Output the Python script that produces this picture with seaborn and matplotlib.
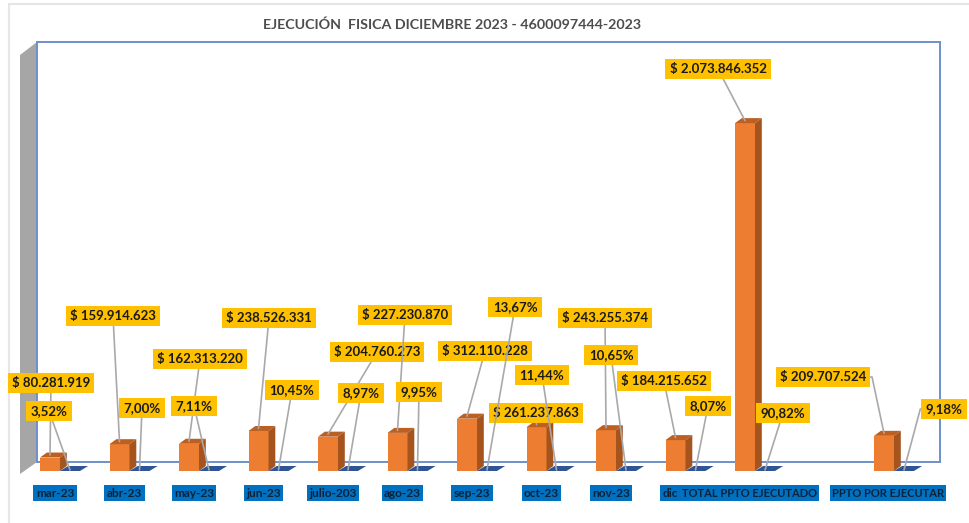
import numpy as np
import pandas as pd
import matplotlib.pyplot as plt
import seaborn as sns
from matplotlib.patches import Polygon

W, H = 969, 523

categories = ["mar-23", "abr-23", "may-23", "jun-23", "julio-203", "ago-23", "sep-23",
              "oct-23", "nov-23", "dic", "TOTAL PPTO EJECUTADO", " ", "PPTO POR EJECUTAR"]
bar_categories = ["mar-23", "abr-23", "may-23", "jun-23", "julio-203", "ago-23", "sep-23",
                  "oct-23", "nov-23", "dic", "TOTAL PPTO EJECUTADO", "PPTO POR EJECUTAR"]
valores = [80281919, 159914623, 162313220, 238526331, 204760273, 227230870, 312110228,
           261237863, 243255374, 184215652, 2073846352, 209707524]
porcentajes = [0.0352, 0.0700, 0.0711, 0.1045, 0.0897, 0.0995, 0.1367,
               0.1144, 0.1065, 0.0807, 0.9082, 0.0918]
valor_labels = ["$ 80.281.919", "$ 159.914.623", "$ 162.313.220", "$ 238.526.331",
                "$ 204.760.273", "$ 227.230.870", "$ 312.110.228", "$ 261.237.863",
                "$ 243.255.374", "$ 184.215.652", "$ 2.073.846.352", "$ 209.707.524"]
pct_labels = ["3,52%", "7,00%", "7,11%", "10,45%", "8,97%", "9,95%", "13,67%",
              "11,44%", "10,65%", "8,07%", "90,82%", "9,18%"]

# label box centres in image pixels
valor_pos = [(51, 383), (113, 316), (200, 359), (269, 318), (377, 352), (405, 315),
             (485, 351), (536, 413), (605, 318), (664, 381), (718, 69), (823, 377)]
pct_pos = [(49, 411), (142, 408), (194, 406), (292, 390), (361, 393), (419, 392),
           (515, 307), (542, 375), (611, 355), (708, 406), (783, 413), (944, 409)]
# pixel shift of the axis labels
tick_shift = np.array([-5, -5, -5, -5, -5, -5, -5, -5, -5, -15, -6, 0, -6])

sns.set_theme(style="white")
plt.rcParams["font.family"] = ["Lato", "DejaVu Sans"]

df = pd.concat([
    pd.DataFrame({"cat": bar_categories, "serie": "Valor", "valor": valores}),
    pd.DataFrame({"cat": bar_categories, "serie": "Porcentaje", "valor": porcentajes}),
])


def fx(x):
    return x / W


def fy(y):
    return 1 - y / H


def fig_xy(points):
    return [(fx(x), fy(y)) for x, y in points]


fig = plt.figure(figsize=(W / 100, H / 100), dpi=100, facecolor="white")
ax = fig.add_axes([fx(20), fy(471), fx(940) - fx(20), fy(55) - fy(471)])
ax.patch.set_visible(False)

sns.barplot(data=df, x="cat", y="valor", hue="serie", order=categories,
            hue_order=["Valor", "Porcentaje"], palette=["#ED7D31", "#2F5597"],
            saturation=1, linewidth=0, width=0.575, gap=0, legend=False, errorbar=None, ax=ax)

ax.set_xlim((20 - 60) / 69.5, (940 - 60) / 69.5)
ax.set_ylim(0, 2.48e9)
ax.set_xlabel("")
ax.set_ylabel("")
ax.set_yticks([])
sns.despine(ax=ax, left=True, bottom=True)

# image frame, side wall and back wall of the 3D box
ax.plot([fx(9), fx(9), fx(969)], [fy(523), fy(4), fy(4)], color="#E6E6E6", lw=1.5,
        transform=fig.transFigure, clip_on=False, zorder=0)
ax.add_patch(Polygon(fig_xy([(20, 55), (37, 42), (37, 462), (20, 474)]), fc="#A6A6A6", ec="none",
                     transform=fig.transFigure, clip_on=False, zorder=0.4))
ax.add_patch(Polygon(fig_xy([(37, 42), (940, 42), (940, 462), (37, 462)]), fc="none", ec="#6F8FCB",
                     lw=1.4, transform=fig.transFigure, clip_on=False, zorder=0.5))

dx = 6.8 / 69.5
dy = 5 * 2.48e9 / 416
bars_valor = list(ax.containers[0])
bars_pct = list(ax.containers[1])
for b in bars_valor:
    x0, x1, h = b.get_x(), b.get_x() + b.get_width(), b.get_height()
    ax.add_patch(Polygon([(x0, h), (x1, h), (x1 + dx, h + dy), (x0 + dx, h + dy)],
                         fc="#BC5F22", ec="none", clip_on=False, zorder=1.2))
    ax.add_patch(Polygon([(x1, 0), (x1 + dx, dy), (x1 + dx, h + dy), (x1, h)],
                         fc="#A5541E", ec="none", clip_on=False, zorder=1.2))
for b in bars_pct:
    x0, x1 = b.get_x(), b.get_x() + b.get_width()
    ax.add_patch(Polygon([(x0, 0), (x1, 0), (x1 + dx * 1.2, dy), (x0 + dx * 1.2, dy)],
                         fc="#2F5597", ec="none", clip_on=False, zorder=1.2))

box = dict(boxstyle="square,pad=0.32", fc="#FFC000", ec="none")
line = dict(arrowstyle="-", color="#A9A9A9", lw=1.2, shrinkA=0, shrinkB=0)

for i, b in enumerate(bars_valor):
    props = dict(line)
    if i == 11:
        props.update(relpos=(1, 0.5), connectionstyle="angle,angleA=0,angleB=102,rad=0")
    ax.annotate(valor_labels[i], xy=(b.get_x() + b.get_width() / 2, b.get_height() + dy / 2),
                xycoords="data", xytext=(fx(valor_pos[i][0]), fy(valor_pos[i][1])),
                textcoords="figure fraction", ha="center", va="center", fontsize=9.5,
                fontweight="bold", color="#1A1A1A", bbox=box, arrowprops=props,
                annotation_clip=False, zorder=5)
for i, b in enumerate(bars_pct):
    props = dict(line)
    if i == 11:
        props.update(relpos=(0, 0.5), connectionstyle="angle,angleA=0,angleB=75,rad=0")
    ax.annotate(pct_labels[i], xy=(b.get_x() + b.get_width() / 2, dy * 0.2),
                xycoords="data", xytext=(fx(pct_pos[i][0]), fy(pct_pos[i][1])),
                textcoords="figure fraction", ha="center", va="center", fontsize=9.5,
                fontweight="bold", color="#1A1A1A", bbox=box, arrowprops=props,
                annotation_clip=False, zorder=5)

ax.tick_params(axis="x", length=0, pad=12)
ax.set_xticks(np.arange(len(categories)) + tick_shift / 69.5)
ax.set_xticklabels(categories, fontsize=8.6, fontweight="bold", color="#0B2238")
for lab in ax.get_xticklabels():
    if lab.get_text().strip():
        if len(lab.get_text()) > 10:
            lab.set_fontsize(8)
        lab.set_bbox(dict(boxstyle="square,pad=0.2", fc="#0070C0", ec="none"))

fig.text(fx(452), fy(24.5), "EJECUCIÓN  FISICA DICIEMBRE 2023 - 4600097444-2023", ha="center", va="center",
         fontsize=10.25, fontweight="bold", color="#4D4D4D")

fig.savefig("out.png", dpi=100)
